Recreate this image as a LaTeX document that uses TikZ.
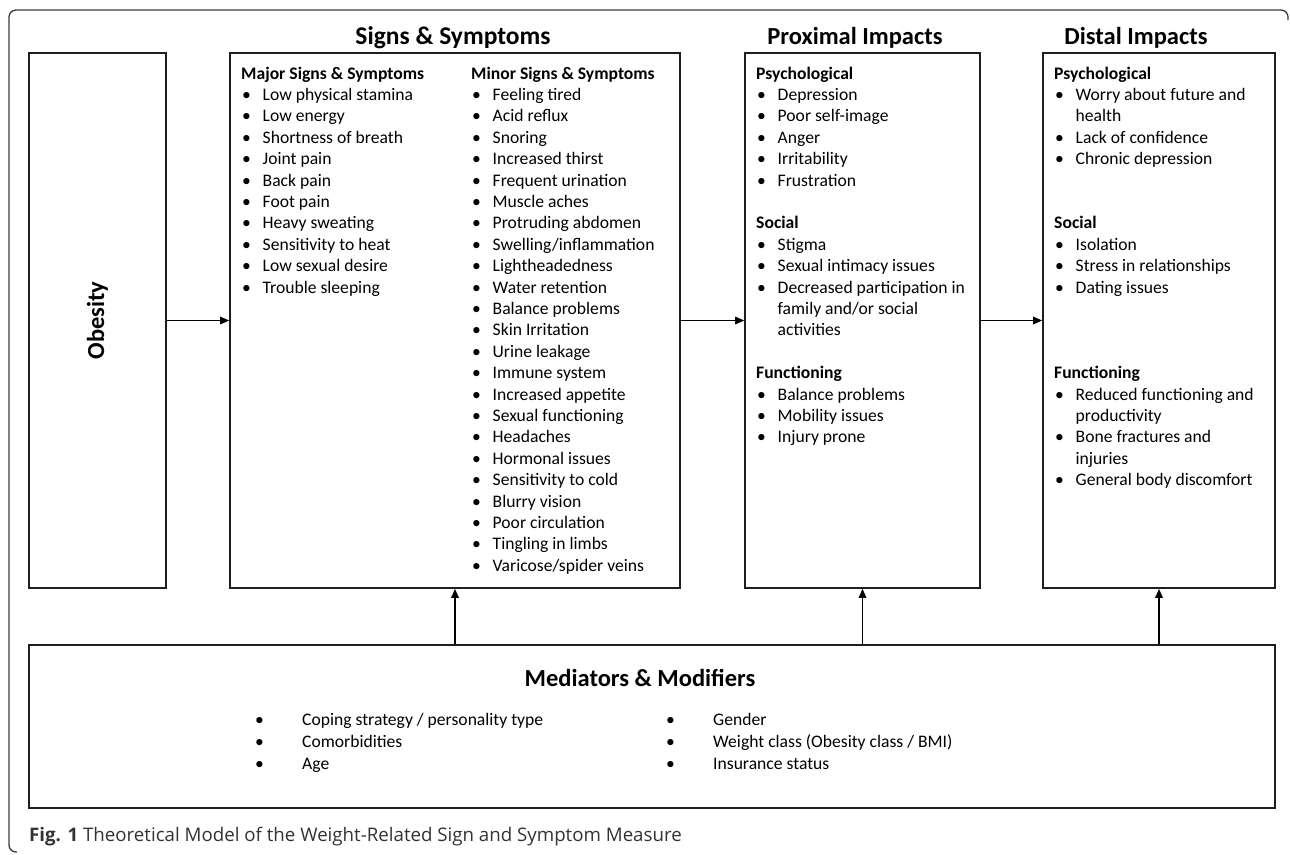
\documentclass[tikz,border=0pt]{standalone}
\usepackage{fontspec}
\setmainfont{Carlito}
\newfontfamily\capfont{Open Sans}
\usetikzlibrary{arrows.meta}
\definecolor{framegray}{HTML}{3C3C3C}
\definecolor{capgray}{HTML}{333333}
\newcommand\bul[1]{\hspace*{1pt}\makebox[20.5pt][l]{\textbullet}#1}
\newcommand\cont[1]{\hspace*{21.5pt}#1}
\newcommand\mbul[1]{\makebox[47pt][l]{\textbullet}#1}
\tikzset{
  box/.style={draw=black!88, line width=1.6pt, rectangle, inner sep=0pt},
  arr/.style={draw=black, line width=1.5pt, -{Triangle[length=9pt,width=7.5pt]}},
  txt/.style={anchor=north west, inner sep=0pt, align=left, font=\fontsize{17.6}{21.4}\selectfont},
  head/.style={inner sep=0pt, font=\fontsize{24.5}{28}\selectfont\bfseries},
}
\begin{document}
\begin{tikzpicture}[x=1pt, y=-1pt]
\useasboundingbox (0,0) rectangle (1290,854);
% outer frame (top and left)
\draw[framegray, line width=1.3pt, rounded corners=7pt] (1288,20) -- (1288,10) -- (9,10) -- (9,852) -- (17,852);

% boxes
\node[box, minimum width=137pt, minimum height=535pt] (obesity) at (97.5,320.5) {};
\node[box, minimum width=450pt, minimum height=535pt] (signs) at (455,320.5) {};
\node[box, minimum width=235pt, minimum height=535pt] (prox) at (862.5,320.5) {};
\node[box, minimum width=232pt, minimum height=535pt] (dist) at (1159,320.5) {};
\node[box, minimum width=1246pt, minimum height=163pt] (med) at (652,726.5) {};

% headers
\node[head, anchor=base, font=\fontsize{25.5}{28}\selectfont\bfseries] (hsigns) at (453,44) {Signs \& Symptoms};
\node[head, anchor=base] (hprox) at (855,44) {Proximal Impacts};
\node[head, anchor=base] (hdist) at (1136,44) {Distal Impacts};
\node[head, rotate=90] (hob) at (97.5,320.5) {Obesity};
\node[head, anchor=base] (hmed) at (640,686) {Mediators \& Modifiers};

% arrows
\draw[arr] (obesity.east) -- (signs.west);
\draw[arr] (signs.east) -- (prox.west);
\draw[arr] (prox.east) -- (dist.west);
\draw[arr] (med.north -| signs.south) -- (signs.south);
\draw[arr] (med.north -| prox.south) -- (prox.south);
\draw[arr] (med.north -| dist.south) -- (dist.south);

% Signs & Symptoms columns
\node[txt] (major) at (241,64.0) {\strut\textbf{Major Signs \& Symptoms}\\
\bul{Low physical stamina}\\
\bul{Low energy}\\
\bul{Shortness of breath}\\
\bul{Joint pain}\\
\bul{Back pain}\\
\bul{Foot pain}\\
\bul{Heavy sweating}\\
\bul{Sensitivity to heat}\\
\bul{Low sexual desire}\\
\bul{Trouble sleeping}};

\node[txt] (minor) at (471,64.0) {\strut\textbf{Minor Signs \& Symptoms}\\
\bul{Feeling tired}\\
\bul{Acid reflux}\\
\bul{Snoring}\\
\bul{Increased thirst}\\
\bul{Frequent urination}\\
\bul{Muscle aches}\\
\bul{Protruding abdomen}\\
\bul{Swelling/inflammation}\\
\bul{Lightheadedness}\\
\bul{Water retention}\\
\bul{Balance problems}\\
\bul{Skin Irritation}\\
\bul{Urine leakage}\\
\bul{Immune system}\\
\bul{Increased appetite}\\
\bul{Sexual functioning}\\
\bul{Headaches}\\
\bul{Hormonal issues}\\
\bul{Sensitivity to cold}\\
\bul{Blurry vision}\\
\bul{Poor circulation}\\
\bul{Tingling in limbs}\\
\bul{Varicose/spider veins}};

% Proximal
\node[txt] (proxtxt) at (756,64.0) {\strut\textbf{Psychological}\\
\bul{Depression}\\
\bul{Poor self-image}\\
\bul{Anger}\\
\bul{Irritability}\\
\bul{Frustration}\\
\strut\\
\textbf{Social}\\
\bul{Stigma}\\
\bul{Sexual intimacy issues}\\
\bul{Decreased participation in}\\
\cont{family and/or social}\\
\cont{activities}\\
\strut\\
\textbf{Functioning}\\
\bul{Balance problems}\\
\bul{Mobility issues}\\
\bul{Injury prone}};

% Distal
\node[txt] (disttxt) at (1054,64.0) {\strut\textbf{Psychological}\\
\bul{Worry about future and}\\
\cont{health}\\
\bul{Lack of confidence}\\
\bul{Chronic depression}\\
\strut\\
\strut\\
\textbf{Social}\\
\bul{Isolation}\\
\bul{Stress in relationships}\\
\bul{Dating issues}\\
\strut\\
\strut\\
\strut\\
\textbf{Functioning}\\
\bul{Reduced functioning and}\\
\cont{productivity}\\
\bul{Bone fractures and}\\
\cont{injuries}\\
\bul{General body discomfort}};

% Mediators
\node[txt, font=\fontsize{17.6}{22}\selectfont] (medl) at (255,709.6) {\strut\mbul{Coping strategy / personality type}\\
\mbul{Comorbidities}\\
\mbul{Age}};
\node[txt, font=\fontsize{17.6}{22}\selectfont] (medr) at (666,709.6) {\strut\mbul{Gender}\\
\mbul{Weight class (Obesity class / BMI)}\\
\mbul{Insurance status}};

% caption
\node[anchor=base west, inner sep=0pt, text=capgray, font=\capfont\fontsize{18.7}{22}\selectfont] (cap) at (29,841) {\textbf{Fig. 1} Theoretical Model of the Weight-Related Sign and Symptom Measure};
\end{tikzpicture}
\end{document}
